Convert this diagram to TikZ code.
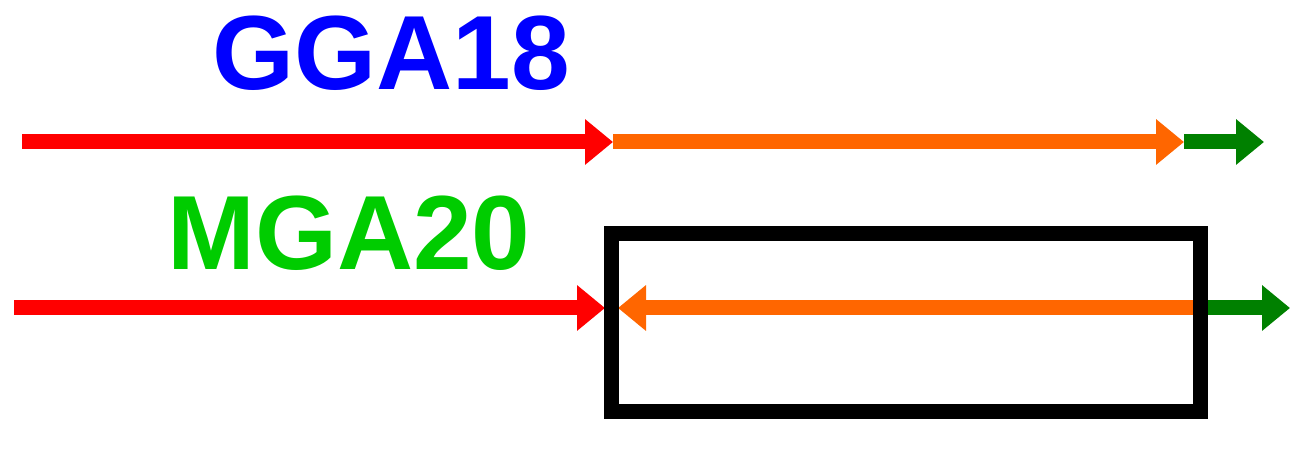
\documentclass[tikz,border=0pt]{standalone}
\usepackage{fontspec}
\setmainfont{Liberation Sans}
\usetikzlibrary{arrows.meta, positioning}
\definecolor{bluetxt}{RGB}{0,0,255}
\definecolor{greentxt}{RGB}{0,204,0}
\definecolor{redline}{RGB}{255,0,0}
\definecolor{orangeline}{RGB}{255,102,0}
\definecolor{greenline}{RGB}{0,128,0}
\begin{document}
\begin{tikzpicture}[>={Triangle[length=0.56cm,width=0.88cm]},
line width=0.3cm,
label/.style={font=\bfseries\fontsize{60}{60}\selectfont,inner sep=0pt},
seg/.style={->,shorten >=0pt}]
\useasboundingbox (0,0) rectangle (26.14,8.98);
\node[label,text=bluetxt] (gga) at (7.82,7.92) {GGA18};
\node[label,text=greentxt] (mga) at (6.98,4.31) {MGA20};
% top line
\coordinate (t0) at (0.44,6.14);
\coordinate (t1) at (12.26,6.14);
\coordinate (t2) at (23.68,6.14);
\coordinate (t3) at (25.28,6.14);
\draw[seg,redline] (t0) -- (t1);
\draw[seg,orangeline] (t1) -- (t2);
\draw[seg,greenline] (t2) -- (t3);
% bottom line
\coordinate (b0) at (0.28,2.82);
\coordinate (b1) at (12.10,2.82);
\coordinate (b2) at (23.86,2.82);
\coordinate (b3) at (12.36,2.82);
\coordinate (b4) at (24.14,2.82);
\coordinate (b5) at (25.80,2.82);
\draw[seg,redline] (b0) -- (b1);
\draw[seg,orangeline] (b2) -- (b3);
\draw[seg,greenline] (b4) -- (b5);
% box
\node[draw=black,line width=0.3cm,minimum width=11.78cm,minimum height=3.56cm,inner sep=0pt] (box) at (18.11,2.52) {};
\end{tikzpicture}
\end{document}
